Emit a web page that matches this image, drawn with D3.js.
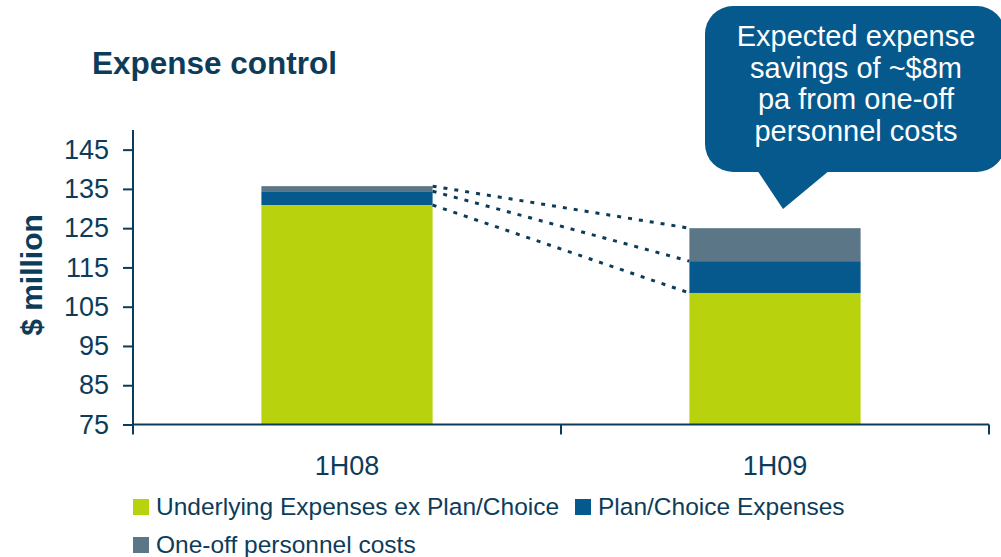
<!DOCTYPE html>
<html>
<head>
<meta charset="utf-8">
<title>Expense control</title>
<script src="https://d3js.org/d3.v7.min.js"></script>
<style>
  body { margin: 0; background: #fff; }
  text { font-family: Arial, "Liberation Sans", sans-serif; }
</style>
</head>
<body>
<script>
// data ($ million)
const categories = ["1H08", "1H09"];
const underlying = [130.9, 108.5];
const planChoice = [3.5, 8.1];
const oneOff = [1.3, 8.4];
const seriesNames = ["Underlying Expenses ex Plan/Choice", "Plan/Choice Expenses", "One-off personnel costs"];
const yTicks = [75, 85, 95, 105, 115, 125, 135, 145];
const calloutLines = ["Expected expense", "savings of ~$8m", "pa from one-off", "personnel costs"];

const W = 1001, H = 557;
const navy = "#0d3c5a";
const colors = ["#b8d20e", "#05598d", "#5b7787"];

const svg = d3.select("body").append("svg")
  .attr("width", W).attr("height", H);

const x = d3.scaleBand().domain(categories).range([133, 989])
  .paddingInner(0.6).paddingOuter(0.3);
const y = d3.scaleLinear().domain([75, 150]).range([424.5, 130]);

// stacked table
const table = categories.map((c, i) => ({
  cat: c, s0: underlying[i], s1: planChoice[i], s2: oneOff[i]
}));
const stack = d3.stack().keys(["s0", "s1", "s2"])(table);

// bars
svg.append("g").selectAll("g").data(stack).join("g")
  .attr("fill", (d, i) => colors[i])
  .selectAll("rect").data(d => d).join("rect")
  .attr("x", d => x(d.data.cat))
  .attr("width", x.bandwidth())
  .attr("y", d => y(d[1]))
  .attr("height", d => y(Math.max(d[0], 75)) - y(d[1]));

// dotted connectors between the segment tops
const conn = svg.append("g");
stack.forEach(layer => {
  conn.append("line")
    .attr("x1", x(categories[0]) + x.bandwidth())
    .attr("y1", y(layer[0][1]))
    .attr("x2", x(categories[1]))
    .attr("y2", y(layer[1][1]))
    .attr("stroke", navy)
    .attr("stroke-width", 3)
    .attr("stroke-dasharray", "4 7");
});

// y axis
const yAxis = svg.append("g").attr("transform", "translate(133,0)")
  .call(d3.axisLeft(y).tickValues(yTicks).tickSize(10).tickSizeOuter(0).tickPadding(14));
yAxis.select(".domain").attr("d", "M0," + y(150) + "V" + (y(75) + 10))
  .attr("stroke", navy).attr("stroke-width", 2);
yAxis.selectAll(".tick line").attr("stroke", navy).attr("stroke-width", 2);
yAxis.selectAll(".tick text")
  .attr("fill", navy).attr("font-size", 27)
  .attr("font-family", "Arial, 'Liberation Sans', sans-serif");

// x axis with ticks at the band edges
const xg = svg.append("g");
xg.append("line").attr("x1", 133).attr("x2", 989)
  .attr("y1", y(75)).attr("y2", y(75))
  .attr("stroke", navy).attr("stroke-width", 2);
const edges = [(x(categories[0]) + x.bandwidth() + x(categories[1])) / 2, 989];
xg.selectAll(".xt").data(edges).join("line")
  .attr("x1", d => d).attr("x2", d => d)
  .attr("y1", y(75)).attr("y2", y(75) + 10)
  .attr("stroke", navy).attr("stroke-width", 2);
xg.selectAll("text").data(categories).join("text")
  .attr("x", d => x(d) + x.bandwidth() / 2)
  .attr("y", 475)
  .attr("text-anchor", "middle")
  .attr("fill", navy).attr("font-size", 27)
  .text(d => d);

// title and y label
svg.append("text").attr("x", 92).attr("y", 74)
  .attr("fill", navy).attr("font-size", 31.5).attr("font-weight", "bold")
  .text("Expense control");
svg.append("text").attr("transform", "translate(42,275) rotate(-90)")
  .attr("text-anchor", "middle")
  .attr("fill", navy).attr("font-size", 30).attr("font-weight", "bold")
  .text("$ million");

// legend
const legendPos = [[133, 499], [575, 499], [133, 537]];
const lg = svg.append("g").selectAll("g").data(seriesNames).join("g")
  .attr("transform", (d, i) => "translate(" + legendPos[i][0] + "," + legendPos[i][1] + ")");
lg.append("rect").attr("width", 16).attr("height", 16).attr("fill", (d, i) => colors[i]);
lg.append("text").attr("x", 23).attr("y", 16)
  .attr("fill", navy).attr("font-size", 24.5)
  .text(d => d);

// callout bubble
const cb = svg.append("g");
cb.append("rect").attr("x", 705).attr("y", 6).attr("width", 300).attr("height", 166)
  .attr("rx", 28).attr("fill", colors[1]);
cb.append("path").attr("d", "M757,170 L830,170 L783,209 Z").attr("fill", colors[1]);
cb.selectAll("text").data(calloutLines).join("text")
  .attr("x", 856).attr("y", (d, i) => 46 + i * 31.5)
  .attr("text-anchor", "middle")
  .attr("fill", "#fff").attr("font-size", 29)
  .text(d => d);
</script>
</body>
</html>
